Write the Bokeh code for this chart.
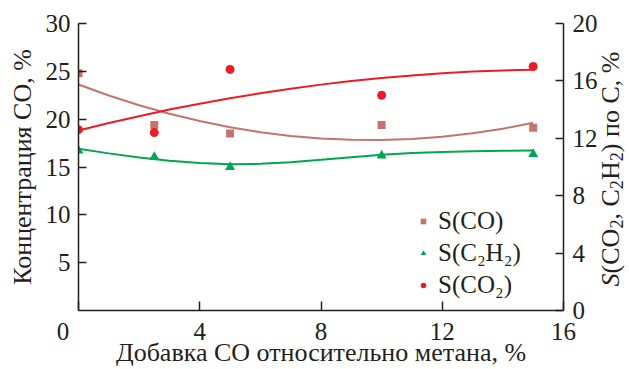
from bokeh.plotting import figure
from bokeh.models import Range1d, LinearAxis, FixedTicker, Legend, LegendItem, Div
from bokeh.layouts import row
from bokeh.embed import file_html
from bokeh.resources import INLINE

# measured points
x_pts = [0, 2.5, 5, 10, 15]
s_co = [24.8, 19.4, 18.5, 19.4, 19.1]        # left axis
s_c2h2 = [11.15, 10.7, 10.0, 10.8, 10.9]     # right axis
s_co2 = [12.6, 12.4, 16.8, 15.0, 17.0]       # right axis

# trend curves
x_fit = [0, 1, 2, 3, 4, 5, 6, 7, 8, 9, 10, 11, 12, 13, 14, 15]
fit_co = [23.62, 22.48, 21.46, 20.57, 19.80, 19.16, 18.64, 18.25, 17.98, 17.84, 17.82, 17.93, 18.16, 18.52, 19.00, 19.62]
fit_co2 = [12.54, 13.06, 13.54, 14.0, 14.41, 14.79, 15.14, 15.46, 15.74, 15.99, 16.20, 16.38, 16.53, 16.65, 16.73, 16.77]
fit_c2h2 = [11.27, 10.95, 10.66, 10.44, 10.28, 10.2, 10.22, 10.33, 10.5, 10.68, 10.85, 10.97, 11.05, 11.1, 11.13, 11.15]

x_ticks = [0, 4, 8, 12, 16]
left_ticks = [5, 10, 15, 20, 25, 30]
right_ticks = [0, 4, 8, 12, 16, 20]

FONT = "Liberation Serif"
TXT = "#231f20"
BROWN = "#c4736d"
RED = "#ec1c24"
GREEN = "#00a651"

p = figure(width=600, height=369, output_backend="svg", toolbar_location=None,
           x_range=Range1d(0, 16), y_range=Range1d(0, 30),
           min_border_left=78, min_border_right=37, min_border_top=23, min_border_bottom=59)
p.extra_y_ranges = {"right": Range1d(0, 20)}
p.outline_line_color = None
p.xgrid.visible = False
p.ygrid.visible = False
p.background_fill_color = "white"

ax_r = LinearAxis(y_range_name="right")
p.add_layout(ax_r, "right")

for ax in [p.xaxis[0], p.yaxis[0], ax_r]:
    ax.axis_line_color = TXT
    ax.axis_line_width = 1.5
    ax.major_tick_line_color = TXT
    ax.major_tick_line_width = 1.5
    ax.major_tick_in = 8
    ax.major_tick_out = 0
    ax.minor_tick_line_color = None
    ax.major_label_text_font = FONT
    ax.major_label_text_font_size = "25px"
    ax.major_label_text_color = TXT
    ax.axis_label_text_font = FONT
    ax.axis_label_text_font_size = "26px"
    ax.axis_label_text_font_style = "normal"
    ax.axis_label_text_color = TXT

p.xaxis[0].ticker = FixedTicker(ticks=x_ticks)
p.xaxis[0].major_label_overrides = {0: "0\u00a0\u00a0\u00a0\u00a0\u00a0"}
p.xaxis[0].major_tick_in = 9
p.xaxis[0].major_label_standoff = 7
p.xaxis[0].axis_label_standoff = -10
p.xaxis[0].axis_label = "Добавка CO относительно метана, %"

p.yaxis[0].ticker = FixedTicker(ticks=left_ticks)
p.yaxis[0].major_label_standoff = 8
p.yaxis[0].axis_label_standoff = 6
p.yaxis[0].axis_label = "Концентрация CO, %"

ax_r.ticker = FixedTicker(ticks=right_ticks)
ax_r.major_label_standoff = 9

# trend lines
p.line(x_fit, fit_co, line_color=BROWN, line_width=2)
p.line(x_fit, fit_co2, line_color=RED, line_width=2, y_range_name="right")
p.line(x_fit, fit_c2h2, line_color=GREEN, line_width=2, y_range_name="right")

# points
r_co = p.scatter(x_pts, s_co, marker="square", size=8, fill_color=BROWN, line_color=None)
r_c2h2 = p.scatter(x_pts, s_c2h2, marker="triangle", size=10, fill_color=GREEN, line_color=None,
                   y_range_name="right")
r_co2 = p.scatter(x_pts, s_co2, marker="circle", size=9, fill_color=RED, line_color=None,
                  y_range_name="right")

legend = Legend(items=[LegendItem(label="S(CO)", renderers=[r_co]),
                       LegendItem(label="S(C₂H₂)", renderers=[r_c2h2]),
                       LegendItem(label="S(CO₂)", renderers=[r_co2])],
                location=(338, 9))
legend.label_text_font = FONT
legend.label_text_font_size = "25px"
legend.label_text_color = TXT
legend.glyph_width = 14
legend.glyph_height = 32
legend.label_height = 32
legend.label_standoff = 8
legend.spacing = 0
legend.padding = 0
legend.margin = 0
legend.border_line_color = None
legend.background_fill_alpha = 0
p.add_layout(legend, "center")

# right axis title (reads upward, as in the reference)
SUB = "<span style=\"font-size:70%;vertical-align:-0.18em;line-height:0\">2</span>"
right_title = ("<div style=\"display:flex;align-items:center;justify-content:center;"
               "box-sizing:border-box;width:29px;height:338px;padding-right:6px;overflow:visible;\">"
               "<span style=\"display:inline-block;white-space:nowrap;transform:rotate(-90deg);"
               "font-family:'Liberation Serif';font-size:26px;line-height:1;color:#231f20;\">"
               "<i>S</i>(CO" + SUB + ", C" + SUB + "H" + SUB + ") по C, %</span></div>")
div = Div(text=right_title, width=29, height=369, margin=0, styles={"overflow": "visible"})

layout = row(p, div, spacing=0)
open("out.html", "w").write(file_html(layout, INLINE))
